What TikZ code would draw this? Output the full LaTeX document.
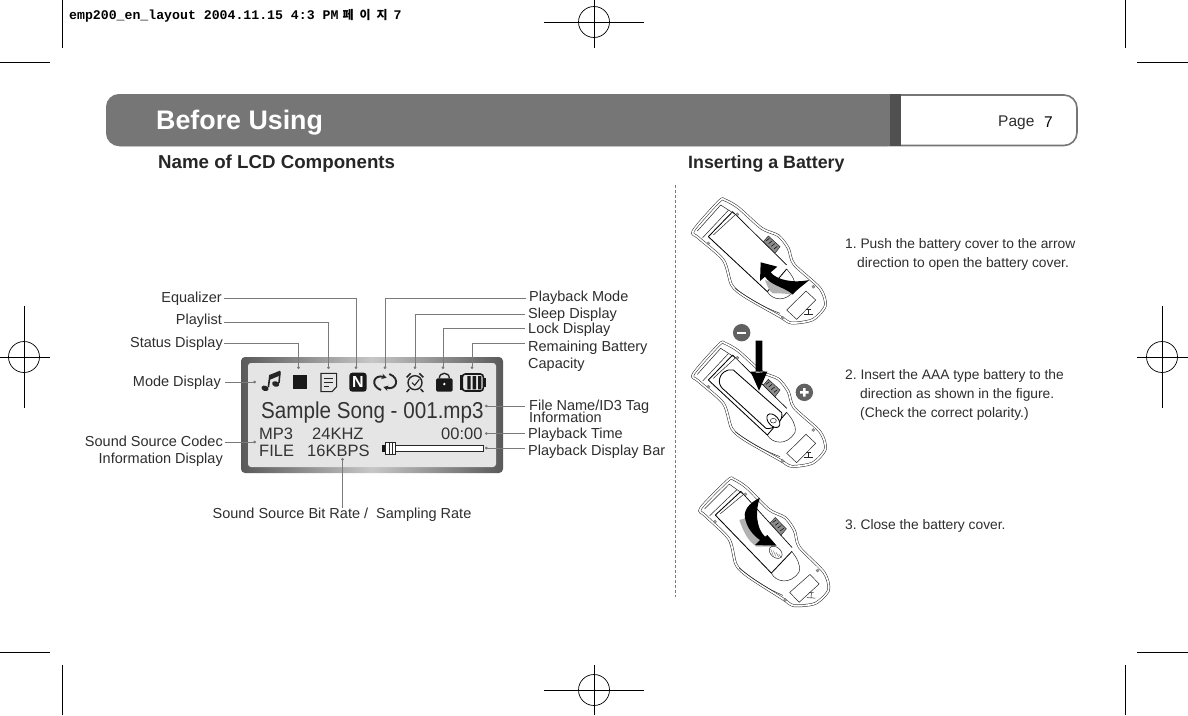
\documentclass[tikz,border=0pt]{standalone}
\usepackage{fontspec}
\setmainfont{Liberation Sans}
\newfontfamily\monof{Liberation Mono}[Scale=1]
\newfontfamily\krf{Noto Sans CJK KR}
\usetikzlibrary{arrows.meta,shapes.geometric}
\definecolor{barg}{HTML}{777677}
\definecolor{bard}{HTML}{505050}
\definecolor{conn}{HTML}{7A7A7A}
\definecolor{txt}{HTML}{2E2E2E}
\tikzset{
  lab/.style={font=\fontsize{14.5}{16}\selectfont,text=txt,inner sep=0pt,align=left,yshift=-1.8pt},
  labr/.style={lab,anchor=east,align=right},
  labl/.style={lab,anchor=west},
  steptxt/.style={font=\fontsize{13.8}{19}\selectfont,text=txt,inner sep=0pt,anchor=west,align=left,yshift=-2pt},
  head/.style={font=\fontsize{18.7}{22}\bfseries\selectfont,text=black!85,inner sep=0pt,anchor=west,yshift=-1.5pt},
  conline/.style={draw=conn,line width=.8pt,-{Circle[length=2.6pt,fill=conn]}},
  crop/.style={draw=black,line width=.7pt},
  lcd/.style={text=black!80,inner sep=0pt,anchor=west,font=\fontsize{16.5}{18}\selectfont,yshift=-1pt},
  dev/.style={draw=black!85,line width=.5pt,fill=white,double=white,double distance=1.7pt},
  devl/.style={draw=black!85,line width=.5pt},
  devk/.style={draw=black,line width=.85pt},
  screw/.style={fill=black!40,draw=black!60,line width=.2pt},
}
\newcommand{\devicebody}{%
  \draw[dev] plot[smooth cycle,tension=.45] coordinates{(40,137)(118,48)(135,45)(175,68)(245,130)(295,152)(325,190)(342,238)(420,310)(436,362)(398,404)(335,414)(300,395)(195,335)(155,300)(130,225)(55,158)};
  \draw[devl] (52,138)--(122,60)--(172,92);
  \draw[devl] (68,158)--(145,76);
  \draw[devl] (100,150)--(165,90);
  \draw[draw=black,line width=.65pt] (158,80)--(320,240);
  \draw[devk] (85,155)--(158,80);
  \draw[devk] (85,155)--(262,320)--(320,252);
  \draw[devl] (262,320) .. controls (275,345) and (320,355) .. (345,312) .. controls (350,290) and (335,270) .. (320,252);
  \draw[devl] (165,310) .. controls (220,350) and (260,370) .. (300,385);
  \draw[devl] (320,375)--(378,318)--(407,345)--(350,403)--cycle;
  \draw[devl] (372,388)--(398,388) (385,388)--(385,372) (378,372)--(392,372);
  \fill[screw] (172,88) circle (1.6pt) (85,175) circle (1.6pt) (400,305) circle (1.6pt) (308,398) circle (1.6pt);
  \draw[devl,fill=black!45] (250,170)--(265,153)--(300,185)--(285,205)--cycle;
  \draw[black,line width=.5pt] (258,168)--(268,160) (266,176)--(276,168) (274,184)--(284,176) (282,192)--(292,184);
}
\begin{document}
\begin{tikzpicture}[x=1pt,y=-1pt]
\frenchspacing
\useasboundingbox (0,0) rectangle (1188,715);
\fill[white] (0,0) rectangle (1188,715);
% crop marks
\foreach \a/\b/\c/\d in {62/0/62/48,0/62/50/62,1125/0/1125/48,1137/62/1188/62,62/665/62/715,0/652/50/652,1125/665/1125/715,1137/652/1188/652,
 544/22/644/22,594/0/594/48,544/690/644/690,594/665/594/715,0/357/50/357,24/306/24/408,1137/357/1188/357,1162/306/1162/408}
  \draw[crop] (\a,\b)--(\c,\d);
\draw[crop] (594,22) circle (15.5) (594,690) circle (15.5) (24,357) circle (15.5) (1162,357) circle (15.5);
\node[inner sep=0pt,anchor=west,font=\monof\bfseries\fontsize{13.2}{14}\selectfont] (slug) at (69,16) {emp200\_en\_layout 2004.11.15 4:3 PM\hspace{4pt}{\krf\fontsize{12}{12}\selectfont 페\hspace{6pt}이\hspace{6pt}지}\hspace{-2pt} 7};
% title bar
\draw[barg,line width=1.6pt,fill=white,rounded corners=13pt] (107,95) rectangle (1077,145.5);
\fill[barg,rounded corners=13pt] (106,94) -- (106,146) -- (900,146) -- (900,94) -- cycle;
\fill[barg] (880,94) rectangle (890,146);
\fill[bard] (890,94) rectangle (901,146);
\node[inner sep=0pt,anchor=west,text=white,font=\fontsize{26.8}{30}\bfseries\selectfont] (title) at (156,122.5) {Before Using};
\node[inner sep=0pt,anchor=west,text=txt,font=\fontsize{15.5}{18}\selectfont] (page) at (998,122.5) {Page};
\node[inner sep=0pt,anchor=west,text=black,font=\fontsize{15.5}{18}\selectfont] (pagen) at (1044,122) {7};
\node[head] (h1) at (158,162.5) {Name of LCD Components};
\node[head,font=\fontsize{17.8}{22}\bfseries\selectfont] (h2) at (688,162.5) {Inserting a Battery};
\draw[conn,line width=.6pt,dash pattern=on 3pt off 2pt] (675,185)--(675,597);
% LCD
\path[left color=black!65,right color=black!65,middle color=black!22,rounded corners=4pt] (241,357) rectangle (503,473);
\path[fill=black!10,rounded corners=3pt] (248,363) rectangle (496,467);
% icons
\begin{scope}[shift={(210,340)},x=1/3*1pt,y=-1/3*1pt]
 \fill[black!85,rotate around={-20:(165,145)}] (165,145) ellipse (11 and 8);
 \fill[black!85,rotate around={-20:(197,132)}] (197,132) ellipse (11 and 8);
 \draw[black!85,line width=1.6pt] (175,142)--(180,105) (207,129)--(210,95);
 \fill[black!85] (178,105)--(210,92)--(211,106)--(178,120)--cycle;
 \fill[black!90] (248,105) rectangle (292,147);
 \draw[black!85,line width=1.1pt] (380,140)--(380,100)--(333,100)--(333,155)--(366,155)--cycle;
 \draw[black!85,line width=1.3pt] (343,115)--(370,115) (343,127)--(370,127) (343,139)--(358,139);
 \fill[black!90,rounded corners=3pt] (418,98) rectangle (470,155);
 \node[inner sep=0pt,text=white,font=\fontsize{16}{16}\bfseries\selectfont] at (444,127) {N};
 \draw[black!85,line width=1.9pt,-{Stealth[length=5pt,width=5.5pt]}] (513,150) .. controls (480,138) and (490,102) .. (530,113);
 \draw[black!85,line width=1.9pt,-{Stealth[length=5pt,width=5.5pt]}] (538,102) .. controls (572,115) and (560,152) .. (520,141);
 \draw[black!85,line width=1.4pt] (615,128) circle (21);
 \draw[black!85,line width=1.1pt] (606,128)--(614,136)--(628,118);
 \draw[black!85,line width=1.5pt] (590,112)--(602,100) (640,112)--(628,100) (598,147)--(590,156) (632,147)--(640,156);
 \draw[black!85,line width=1.4pt] (688,115) .. controls (688,95) and (718,95) .. (718,115);
 \fill[black!90,rounded corners=1.5pt] (678,115) rectangle (728,155);
 \fill[white] (703,132) circle (4);
 \draw[black!90,line width=1.6pt,rounded corners=3pt] (757,102) rectangle (820,153);
 \fill[black!90] (820,115) rectangle (828,140);
 \fill[black!90] (750,105) rectangle (760,150);
 \fill[black!90] (772,108) rectangle (782,148) (788,108) rectangle (798,148) (804,108) rectangle (814,148);
 \draw[black!85,line width=.9pt,fill=white] (530,316) rectangle (821,335);
 \fill[black!90] (517,315) rectangle (527,336);
 \draw[black!85,line width=.8pt,fill=white] (527,306) rectangle (557,344);
 \draw[black!85,line width=.8pt] (537,306)--(537,344) (547,306)--(547,344);
\end{scope}
\coordinate (iMode) at (256,382);
\coordinate (iStat) at (298.5,369);
\coordinate (iList) at (328.5,369);
\coordinate (iEq) at (356,369);
\coordinate (iLoop) at (385,369);
\coordinate (iClock) at (415,369);
\coordinate (iLock) at (443,369);
\coordinate (iBatt) at (472,369);
\coordinate (iName) at (485,406);
\coordinate (iTime) at (485,433.5);
\coordinate (iBar) at (485,448);
\coordinate (iCodec) at (256,442);
\coordinate (iRate) at (342.5,458);
\node[lcd,font=\fontsize{23}{25}\selectfont,xscale=.897,yshift=-1pt] (song) at (261,411) {Sample Song - 001.mp3};
\node[lcd] (mp3) at (259,433) {MP3};
\node[lcd] (khz) at (312,433) {24KHZ};
\node[lcd] (tim) at (441,433) {00:00};
\node[lcd] (file) at (259,450) {FILE};
\node[lcd] (kbps) at (307,450) {16KBPS};
% labels
\node[labr] (eq) at (222,297) {Equalizer};
\node[labr] (pl) at (222,319) {Playlist};
\node[labr] (st) at (223,342) {Status Display};
\node[labr] (md) at (221,381) {Mode Display};
\node[labr,font=\fontsize{14.5}{17.5}\selectfont] (cd) at (223,449.5) {Sound Source Codec\\Information Display};
\node[lab] (br) at (342,513) {Sound Source Bit Rate /\ \ Sampling Rate};
\node[labl] (pm) at (529,296) {Playback Mode};
\node[labl] (sl) at (528,313) {Sleep Display};
\node[labl] (lk) at (528,328) {Lock Display};
\node[labl,font=\fontsize{14.5}{17}\selectfont] (rb) at (528,354.5) {Remaining Battery\\Capacity};
\node[labl,font=\fontsize{14.5}{12}\selectfont] (fn) at (529,409.5) {File Name/ID3 Tag\\[-3pt]Information};
\node[labl] (pt) at (528,433) {Playback Time};
\node[labl] (pb) at (528,450) {Playback Display Bar};
% connectors
\coordinate (eqs) at (224,298); \coordinate (pls) at (224,322); \coordinate (sts) at (224,343);
\coordinate (pms) at (526,298); \coordinate (sls) at (525,314); \coordinate (lks) at (525,328); \coordinate (rbs) at (525,343);
\draw[conline] (eqs) -| (iEq);
\draw[conline] (pls) -| (iList);
\draw[conline] (sts) -| (iStat);
\draw[conline] (md.east |- iMode) ++(4,0) -- (iMode);
\draw[conline] (224.5,442) -- (iCodec);
\draw[conline] (br.north -| iRate) -- (iRate);
\draw[conline] (pms) -| (iLoop);
\draw[conline] (sls) -| (iClock);
\draw[conline] (lks) -| (iLock);
\draw[conline] (rbs) -| (iBatt);
\draw[conline] (525,406) -- (iName);
\draw[conline] (525,433.5) -- (iTime);
\draw[conline] (525,448) -- (iBar);
% step texts
\node[steptxt] (s1) at (845,252.5) {1. Push the battery cover to the arrow\\\hspace{12pt}direction to open the battery cover.};
\node[steptxt] (s2) at (845,393) {2. Insert the AAA type battery to the\\\hspace{15pt}direction as shown in the figure.\\\hspace{15pt}(Check the correct polarity.)};
\node[steptxt] (s3) at (845,524) {3. Close the battery cover.};
% device 1
\begin{scope}[shift={(680,185)},x=1/3*1pt,y=-1/3*1pt]
 \devicebody
 \fill[black!30] (255,285) .. controls (262,305) and (270,320) .. (278,325) .. controls (300,325) and (320,325) .. (340,330) -- (300,300) -- cycle;
 \fill[black] (242,232) -- (292,245) -- (272,262) .. controls (290,285) and (340,295) .. (388,285) .. controls (370,300) and (350,315) .. (338,328) .. controls (310,305) and (270,300) .. (255,275) -- (240,288) -- cycle;
\end{scope}
% device 2
\begin{scope}[shift={(680,328.33)},x=1/3*1pt,y=-1/3*1pt]
 \devicebody
\end{scope}
\begin{scope}[shift={(680,320)},x=1/3*1pt,y=-1/3*1pt]
 \draw[devk,fill=white] (118,185) .. controls (118,160) and (140,145) .. (160,150) -- (305,278) .. controls (312,300) and (280,332) .. (258,325) -- (135,212) .. controls (125,205) and (118,195) .. cycle;
 \draw[devk,fill=white,rotate around={-48:(280,302)}] (280,302) ellipse (24 and 15);
 \draw[devl] (280,302) ellipse (9 and 7);
 \fill[black] (227,62) rectangle (247,158) (212,155) -- (262,155) -- (237,212) -- cycle;
 \fill[bard!90] (185,38) circle (8.7pt);
 \fill[white] (172,35) rectangle (198,42);
 \fill[bard!90] (373,217) circle (8.7pt);
 \fill[white] (360,213) rectangle (386,221) (369,204) rectangle (377,230);
\end{scope}
% device 3
\begin{scope}[shift={(685.67,466)},x=1/3*1pt,y=-1/3*1pt,rotate around={-3:(235,225)}]
 \devicebody
\end{scope}
\begin{scope}[shift={(680,465)},x=1/3*1pt,y=-1/3*1pt]
 \fill[black!30] (178,165) .. controls (190,200) and (205,230) .. (230,245) -- (280,245) -- (240,225) .. controls (220,200) and (205,180) .. (195,160) -- cycle;
 \fill[black] (240,98) .. controls (205,115) and (185,140) .. (198,170) .. controls (205,195) and (225,215) .. (240,225) -- (225,240) -- (290,242) -- (262,210) -- (255,215) .. controls (228,190) and (225,135) .. (240,98) -- cycle;
 \draw[devl,rotate around={-40:(287,262)}] (287,262) ellipse (22 and 15);
 \foreach \i in {0,1,2,3}{\draw[black!60,line width=.4pt] (272+\i*8,252+\i*5)--(280+\i*8,272+\i*2);}
\end{scope}
\end{tikzpicture}
\end{document}
